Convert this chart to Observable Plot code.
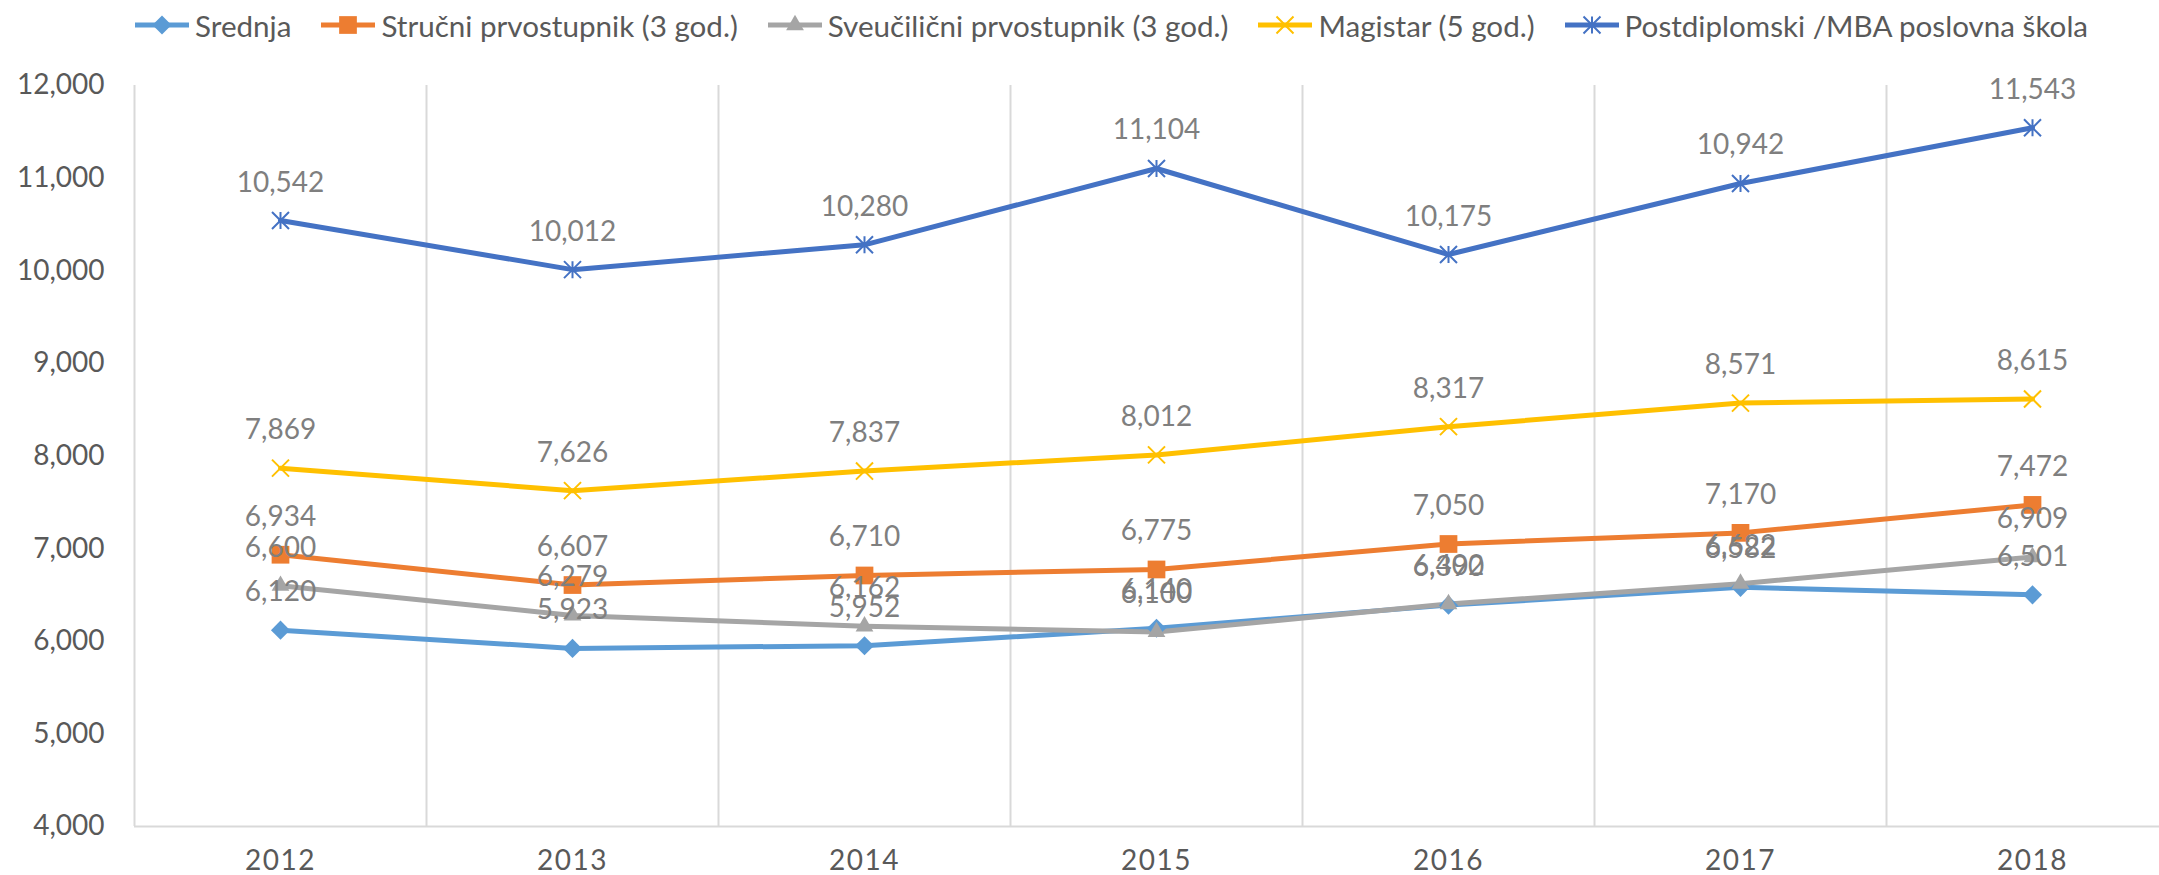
<!DOCTYPE html>
<html>
<head>
<meta charset="utf-8">
<script src="https://cdn.jsdelivr.net/npm/d3@7"></script>
<script src="https://cdn.jsdelivr.net/npm/@observablehq/plot@0.6"></script>
<style>
  html, body { margin: 0; padding: 0; background: #fff; }
  body { width: 2159px; height: 875px; overflow: hidden; font-family: Lato, "Open Sans", sans-serif; }
  #legend { height: 50px; display: flex; align-items: center; justify-content: flex-start; padding-left: 135px; box-sizing: border-box; width: 2159px; gap: 30px; font-size: 29.6px; color: #595959; }
  .item { display: flex; align-items: center; gap: 6px; white-space: nowrap; }
  #chart svg { display: block; }
  #chart g[aria-label^="x-axis"] text { letter-spacing: 1.5px; }
</style>
</head>
<body>
<div id="legend"></div>
<div id="chart"></div>
<script>
// ---- data ----
const years = [2012, 2013, 2014, 2015, 2016, 2017, 2018];
const seriesNames = [
  "Srednja",
  "Stručni prvostupnik (3 god.)",
  "Sveučilični prvostupnik (3 god.)",
  "Magistar (5 god.)",
  "Postdiplomski /MBA poslovna škola"
];
const srednja       = [6120, 5923, 5952, 6140, 6390, 6582, 6501];
const strucni       = [6934, 6607, 6710, 6775, 7050, 7170, 7472];
const sveucilisni   = [6600, 6279, 6162, 6100, 6402, 6622, 6909];
const magistar      = [7869, 7626, 7837, 8012, 8317, 8571, 8615];
const postdiplomski = [10542, 10012, 10280, 11104, 10175, 10942, 11543];
const yTicks = [4000, 5000, 6000, 7000, 8000, 9000, 10000, 11000, 12000];

// ---- styles ----
const colors = ["#5b9bd5", "#ed7d31", "#a5a5a5", "#ffc000", "#4472c4"];
const excelStar = {
  draw(context, size) {
    const r = Math.sqrt(size / Math.PI);
    context.moveTo(-r, -r); context.lineTo(r, r);
    context.moveTo(-r, r); context.lineTo(r, -r);
    context.moveTo(0, -r); context.lineTo(0, r);
  }
};
const markers = [
  {symbol: "diamond2", r: 8.6, filled: true},
  {symbol: "square", r: 10, filled: true},
  {symbol: "triangle", r: 6.6, filled: true},
  {symbol: "times", r: 7.8, filled: false},
  {symbol: excelStar, r: 8.5, filled: false}
];

const valuesList = [srednja, strucni, sveucilisni, magistar, postdiplomski];
const rows = [];
seriesNames.forEach((s, i) => years.forEach((yr, j) => rows.push({series: s, idx: i, year: yr, value: valuesList[i][j]})));

// ---- legend ----
const legend = d3.select("#legend");
seriesNames.forEach((s, i) => {
  const it = legend.append("div").attr("class", "item");
  const sv = it.append("svg").attr("width", 54).attr("height", 24);
  sv.append("line").attr("x1", 0).attr("x2", 54).attr("y1", 12).attr("y2", 12)
    .attr("stroke", colors[i]).attr("stroke-width", 5);
  const m = markers[i];
  const sym = typeof m.symbol === "string" ? {
    diamond2: d3.symbolDiamond2, square: d3.symbolSquare, triangle: d3.symbolTriangle, times: d3.symbolTimes
  }[m.symbol] : m.symbol;
  const path = d3.symbol(sym, Math.PI * m.r * m.r)();
  sv.append("path").attr("d", path).attr("transform", "translate(27,12)")
    .attr("fill", m.filled ? colors[i] : "none")
    .attr("stroke", colors[i]).attr("stroke-width", m.filled ? 0 : 2);
  it.append("span").text(s);
});

// ---- chart ----
const gridX = years.map(y => y - 0.5);
const marks = [
  Plot.ruleX(gridX, {y1: 4000, y2: 12000, stroke: "#d9d9d9", strokeWidth: 2}),
  Plot.ruleY([4000], {stroke: "#d9d9d9", strokeWidth: 2}),
  Plot.line(rows, {x: "year", y: "value", z: "series", stroke: "series", strokeWidth: 5, strokeLinejoin: "round", strokeLinecap: "round"})
];
seriesNames.forEach((s, i) => {
  const m = markers[i];
  const d = rows.filter(r => r.series === s);
  marks.push(Plot.dot(d, {
    x: "year", y: "value", r: m.r, symbol: () => m.symbol,
    fill: m.filled ? colors[i] : "none",
    stroke: m.filled ? "none" : colors[i],
    strokeWidth: m.filled ? 0 : 2
  }));
});
marks.push(Plot.text(rows, {
  x: "year", y: "value", text: d => d3.format(",")(d.value), dy: -38,
  fill: "#7f7f7f", fontSize: 28, fontFamily: "Lato"
}));

const chart = Plot.plot({
  width: 2159,
  height: 825,
  marginTop: 35,
  marginBottom: 49,
  marginLeft: 134,
  marginRight: 0,
  style: {fontFamily: "Lato", fontSize: "28px", color: "#595959", background: "#fff", overflow: "hidden"},
  x: {type: "linear", domain: [2011.5, 2018.5], range: [134, 2178], ticks: years, tickFormat: d => String(d), tickSize: 0, tickPadding: 24, label: null},
  y: {domain: [4000, 12000], ticks: yTicks, tickFormat: d3.format(","), tickSize: 0, tickPadding: 30, label: null},
  color: {domain: seriesNames, range: colors},
  symbol: {domain: ["diamond2", "square", "triangle", "times"], range: ["diamond2", "square", "triangle", "times"]},
  marks
});
document.getElementById("chart").appendChild(chart);
</script>
</body>
</html>
